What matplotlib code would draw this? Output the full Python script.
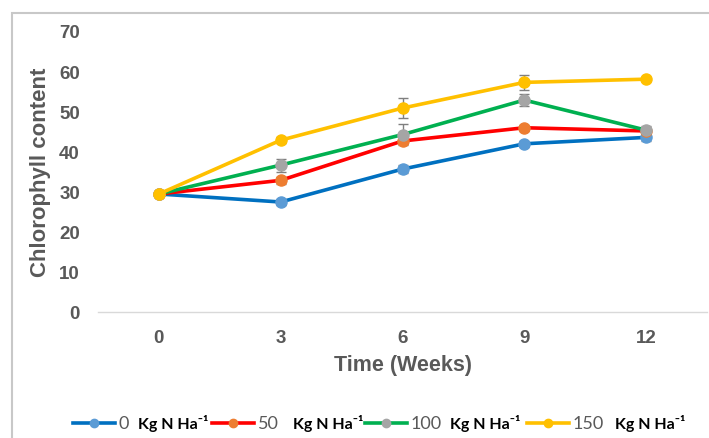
import matplotlib
matplotlib.use("Agg")
import matplotlib.pyplot as plt
from matplotlib.patches import Rectangle
from matplotlib.lines import Line2D

plt.rcParams['font.family'] = ['Liberation Sans', 'DejaVu Sans']

# chlorophyll content over time, four N rates
weeks = [0, 3, 6, 9, 12]
n_rates = ['0', '50', '100', '150']
chl_0 = [29.4, 27.4, 35.6, 41.9, 43.5]
chl_50 = [29.4, 32.8, 42.6, 45.9, 45.1]
chl_100 = [29.4, 36.6, 44.2, 52.8, 45.3]
chl_150 = [29.4, 42.8, 50.8, 57.2, 58.0]
err_0 = [0.5, 0.8, 1.0, 0.8, 0.8]
err_50 = [0.5, 0.8, 0.8, 0.8, 0.5]
err_100 = [0.5, 1.6, 2.6, 1.45, 1.0]
err_150 = [0.5, 0.8, 2.4, 1.9, 0.5]

series = [chl_0, chl_50, chl_100, chl_150]
errors = [err_0, err_50, err_100, err_150]
line_cols = ['#0070C0', '#FF0000', '#00B050', '#FFC000']
mark_cols = ['#5B9BD5', '#ED7D31', '#A5A5A5', '#FFC000']
grey = '#595959'
leg_font = ['Lato', 'DejaVu Sans']

W, H = 709, 439
fig = plt.figure(figsize=(W / 100, H / 100), dpi=100)
fig.add_artist(Rectangle((12 / W, -0.2), 1.2, 1.2 - 14 / H, transform=fig.transFigure,
                         fill=False, ec='#c8c8c8', lw=1.5))

ax = fig.add_axes([98 / W, 1 - 313 / H, 609 / W, 281 / H])

for vals, err, lc, mc in zip(series, errors, line_cols, mark_cols):
    ax.errorbar(weeks, vals, yerr=err, fmt='none', ecolor='#7f7f7f', elinewidth=1.0,
                capsize=3.5, capthick=1.0, zorder=2)
    ax.plot(weeks, vals, color=lc, lw=2.6, marker='o', ms=8, mfc=mc, mec=mc, zorder=3)

ax.set_xlim(-1.5, 13.5)
ax.set_ylim(0, 70)
ax.set_xticks(weeks)
ax.set_xticklabels([str(w) for w in weeks])
ax.set_yticks(range(0, 71, 10))
for s in ['top', 'right', 'left']:
    ax.spines[s].set_visible(False)
ax.spines['bottom'].set_color('#d9d9d9')
ax.spines['bottom'].set_linewidth(1.0)
ax.tick_params(axis='both', length=0, labelsize=13.5, labelcolor=grey)
ax.tick_params(axis='y', pad=13)
ax.tick_params(axis='x', pad=12)
for lbl in ax.get_xticklabels() + ax.get_yticklabels():
    lbl.set_fontweight('bold')

ax.set_xlabel('Time (Weeks)', fontsize=15.5, fontweight='bold', color=grey, labelpad=6)
ax.set_ylabel('Chlorophyll content', fontsize=16, fontweight='bold', color=grey, labelpad=6)

# legend drawn by hand: number in grey, unit in black
leg_x = [73, 212, 365, 527]
unit_x = [138, 293, 450, 615]
ly = 1 - 424 / H
for x0, ux, rate, lc, mc in zip(leg_x, unit_x, n_rates, line_cols, mark_cols):
    fig.add_artist(Line2D([x0 / W, (x0 + 42) / W], [ly, ly], transform=fig.transFigure,
                          color=lc, lw=2.6))
    fig.add_artist(Line2D([(x0 + 21) / W], [ly], transform=fig.transFigure,
                          marker='o', ms=6, mfc=mc, mec=mc, lw=0))
    fig.text((x0 + 46) / W, ly, rate, fontsize=13, color=grey, va='center', ha='left',
             family=leg_font)
    fig.text(ux / W, ly, 'Kg N Ha\u207b\u00b9', fontsize=11.5, color='black', va='center',
             ha='left', family=leg_font, fontweight='bold')

fig.savefig('out.png', dpi=100)
